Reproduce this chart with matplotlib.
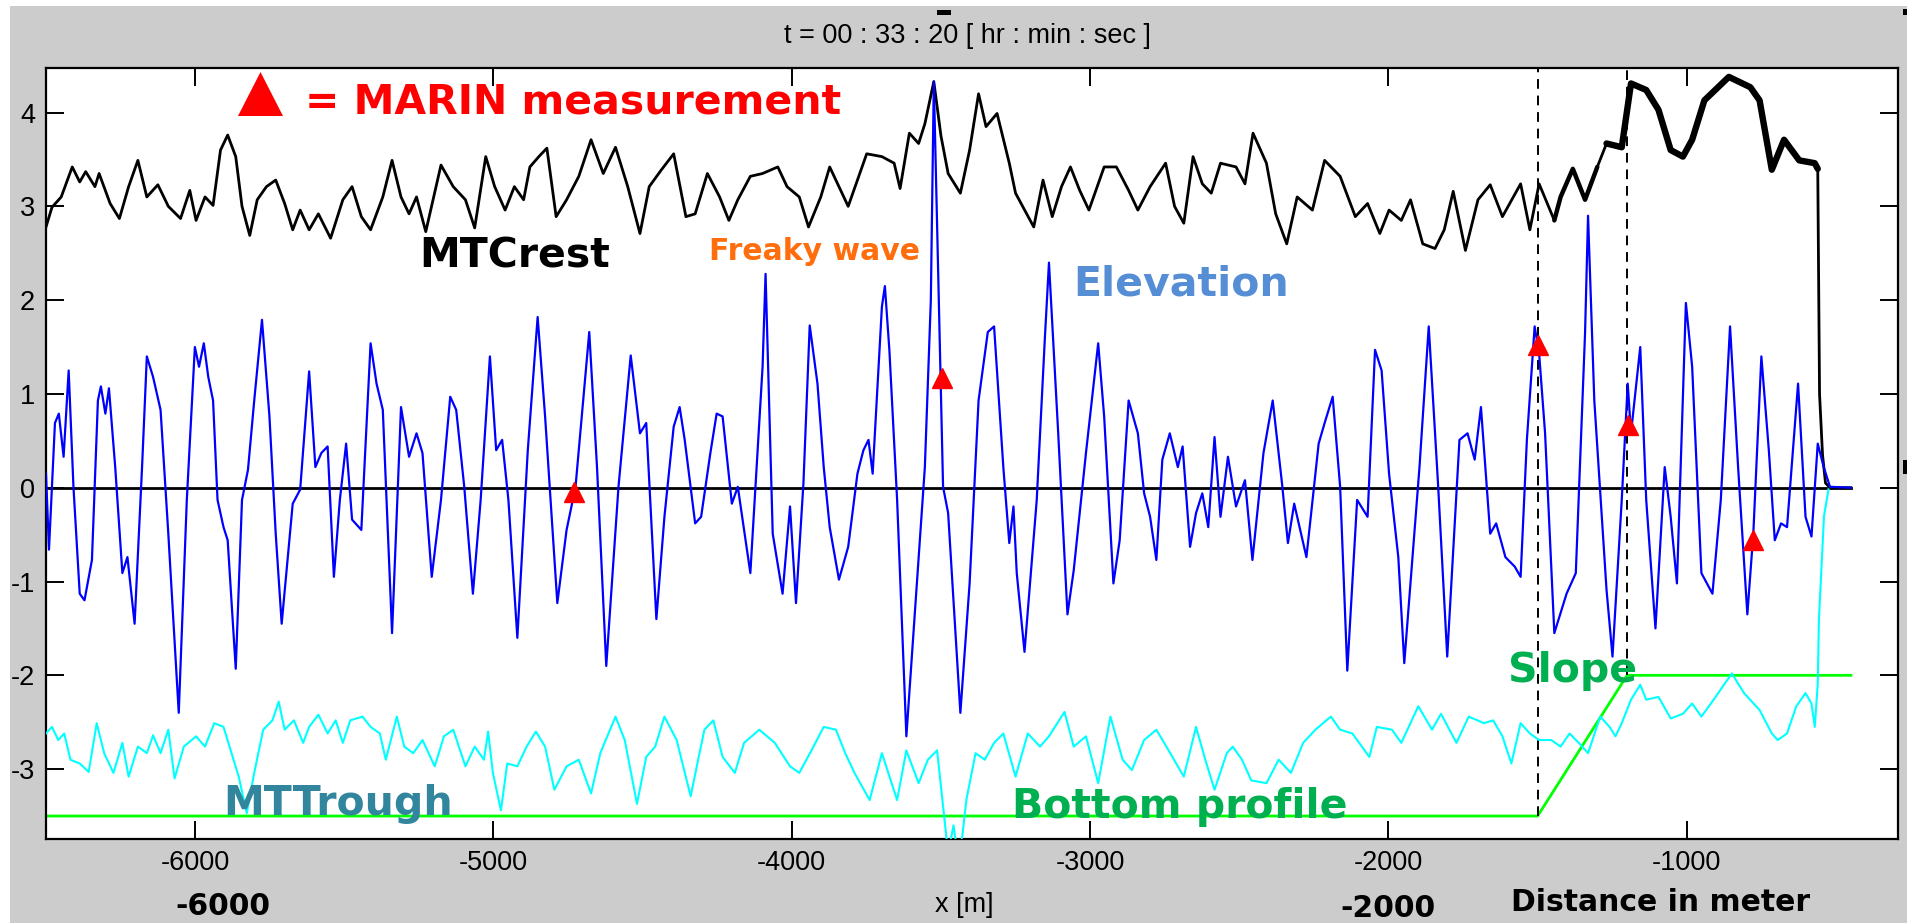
import numpy as np
import matplotlib.pyplot as plt
from matplotlib.patches import Rectangle, Polygon

W, H = 1908, 923

# surface elevation along the tank [m]
elev_x = [-6500, -6490, -6470, -6457, -6441, -6424, -6408, -6387, -6371, -6346,
          -6326, -6316, -6301, -6289, -6268, -6244, -6227, -6203, -6178, -6162,
          -6141, -6116, -6090, -6055, -6028, -6001, -5987, -5971, -5956, -5940,
          -5925, -5905, -5891, -5864, -5843, -5823, -5802, -5776, -5751, -5730,
          -5710, -5673, -5648, -5618, -5597, -5577, -5556, -5535, -5515, -5494,
          -5474, -5443, -5412, -5392, -5371, -5340, -5310, -5283, -5258, -5238,
          -5207, -5176, -5145, -5125, -5098, -5069, -5043, -5012, -4991, -4971,
          -4950, -4920, -4885, -4852, -4827, -4786, -4755, -4725, -4679, -4653,
          -4622, -4581, -4540, -4509, -4488, -4454, -4427, -4396, -4376, -4359,
          -4324, -4304, -4273, -4252, -4232, -4201, -4181, -4139, -4098, -4088,
          -4064, -4031, -4006, -3986, -3961, -3940, -3914, -3893, -3873, -3842,
          -3811, -3780, -3760, -3743, -3729, -3698, -3688, -3673, -3647, -3616,
          -3554, -3534, -3524, -3493, -3476, -3435, -3404, -3374, -3343, -3322,
          -3291, -3271, -3257, -3246, -3220, -3179, -3152, -3138, -3107, -3076,
          -3055, -3014, -2973, -2953, -2922, -2901, -2871, -2840, -2819, -2799,
          -2778, -2758, -2733, -2706, -2690, -2665, -2645, -2624, -2604, -2583,
          -2563, -2538, -2511, -2481, -2456, -2419, -2388, -2357, -2337, -2316,
          -2275, -2234, -2214, -2187, -2162, -2138, -2105, -2070, -2045, -2023,
          -1998, -1967, -1947, -1896, -1865, -1834, -1803, -1762, -1735, -1711,
          -1690, -1659, -1639, -1608, -1577, -1557, -1536, -1510, -1495, -1475,
          -1444, -1403, -1372, -1341, -1331, -1310, -1269, -1249, -1218, -1198,
          -1187, -1156, -1136, -1105, -1074, -1054, -1033, -1003, -982, -951,
          -914, -886, -855, -828, -797, -777, -750, -725, -705, -684,
          -664, -627, -602, -582, -561, -541, -520, -450]
elev_y = [0.15, -0.66, 0.69, 0.79, 0.33, 1.25, 0.01, -1.13, -1.20, -0.77,
          0.93, 1.08, 0.79, 1.06, 0.22, -0.91, -0.74, -1.45, 0.22, 1.40,
          1.18, 0.83, -0.49, -2.40, -0.13, 1.50, 1.29, 1.54, 1.18, 0.93,
          -0.13, -0.42, -0.56, -1.93, -0.13, 0.19, 0.93, 1.79, 0.76, -0.49,
          -1.45, -0.17, -0.02, 1.24, 0.22, 0.37, 0.44, -0.95, -0.13, 0.47,
          -0.34, -0.45, 1.54, 1.11, 0.83, -1.55, 0.86, 0.33, 0.58, 0.37,
          -0.95, -0.13, 0.97, 0.83, 0.01, -1.13, -0.13, 1.40, 0.40, 0.51,
          -0.13, -1.60, 0.40, 1.82, 0.76, -1.23, -0.45, 0.01, 1.66, 0.22,
          -1.90, 0.01, 1.41, 0.58, 0.69, -1.40, -0.31, 0.65, 0.86, 0.51,
          -0.38, -0.31, 0.37, 0.79, 0.76, -0.17, 0.01, -0.91, 1.29, 2.28,
          -0.49, -1.13, -0.20, -1.23, 0.05, 1.73, 1.11, 0.22, -0.42, -0.98,
          -0.63, 0.15, 0.40, 0.51, 0.15, 1.93, 2.15, 1.47, -0.13, -2.65,
          0.22, 2.00, 4.33, 0.01, -0.27, -2.40, -1.02, 0.93, 1.66, 1.72,
          0.22, -0.59, -0.20, -0.91, -1.75, -0.13, 1.58, 2.40, 0.58, -1.35,
          -0.88, 0.37, 1.54, 0.76, -1.02, -0.56, 0.93, 0.58, -0.06, -0.31,
          -0.77, 0.30, 0.58, 0.22, 0.44, -0.63, -0.27, -0.06, -0.42, 0.54,
          -0.31, 0.33, -0.20, 0.08, -0.77, 0.37, 0.93, 0.05, -0.59, -0.17,
          -0.74, 0.47, 0.69, 0.97, 0.01, -1.95, -0.13, -0.31, 1.47, 1.25,
          0.15, -0.74, -1.87, 0.22, 1.72, 0.05, -1.80, 0.51, 0.58, 0.30,
          0.86, -0.49, -0.38, -0.74, -0.84, -0.95, 0.51, 1.72, 1.43, 0.58,
          -1.55, -1.13, -0.91, 1.65, 2.90, 0.93, -1.09, -1.80, -0.13, 1.11,
          0.58, 1.50, -0.13, -1.50, 0.22, -0.31, -1.02, 1.97, 1.29, -0.91,
          -1.13, -0.13, 1.72, 0.22, -1.35, -0.49, 1.40, 0.40, -0.56, -0.38,
          -0.42, 1.11, -0.31, -0.52, 0.47, 0.22, 0.01, 0.00]

# maximum crest height
crest_x = [-6500, -6480, -6449, -6412, -6387, -6367, -6336, -6322, -6285, -6254,
           -6223, -6192, -6162, -6125, -6090, -6049, -6018, -5997, -5967, -5940,
           -5915, -5891, -5864, -5843, -5817, -5792, -5761, -5730, -5700, -5673,
           -5648, -5618, -5587, -5546, -5505, -5474, -5443, -5412, -5371, -5340,
           -5310, -5283, -5258, -5227, -5176, -5135, -5094, -5063, -5026, -4996,
           -4961, -4930, -4899, -4878, -4848, -4821, -4790, -4755, -4714, -4673,
           -4632, -4591, -4550, -4509, -4478, -4437, -4396, -4355, -4324, -4283,
           -4242, -4211, -4181, -4139, -4098, -4047, -4016, -3975, -3944, -3903,
           -3873, -3842, -3811, -3780, -3749, -3698, -3657, -3637, -3606, -3575,
           -3554, -3524, -3500, -3476, -3435, -3404, -3374, -3349, -3312, -3271,
           -3250, -3189, -3158, -3127, -3096, -3066, -3035, -3004, -2953, -2912,
           -2871, -2840, -2799, -2747, -2717, -2686, -2655, -2624, -2594, -2563,
           -2511, -2481, -2454, -2409, -2378, -2341, -2306, -2255, -2214, -2162,
           -2111, -2070, -2029, -1998, -1957, -1926, -1885, -1844, -1813, -1783,
           -1742, -1700, -1659, -1618, -1557, -1526, -1495, -1444, -1423, -1382,
           -1341, -1300, -1269, -1218, -1187, -1136, -1095, -1054, -1013, -982,
           -941, -859, -787, -756, -715, -674, -623, -571, -561, -555,
           -545, -535, -520, -450]
crest_y = [2.78, 2.99, 3.10, 3.42, 3.26, 3.37, 3.21, 3.35, 3.03, 2.87,
           3.21, 3.49, 3.10, 3.23, 3.00, 2.87, 3.17, 2.85, 3.10, 3.01,
           3.60, 3.76, 3.53, 3.00, 2.69, 3.07, 3.21, 3.28, 3.03, 2.75,
           2.96, 2.75, 2.92, 2.66, 3.07, 3.21, 2.89, 2.75, 3.10, 3.49,
           3.10, 2.92, 3.10, 2.73, 3.44, 3.21, 3.07, 2.77, 3.53, 3.21,
           2.96, 3.21, 3.07, 3.42, 3.53, 3.62, 2.89, 3.07, 3.32, 3.71,
           3.35, 3.63, 3.21, 2.71, 3.21, 3.39, 3.56, 2.89, 2.92, 3.35,
           3.10, 2.85, 3.07, 3.32, 3.35, 3.42, 3.21, 3.10, 2.78, 3.10,
           3.42, 3.21, 3.00, 3.28, 3.56, 3.53, 3.46, 3.19, 3.78, 3.67,
           3.88, 4.33, 3.75, 3.35, 3.14, 3.60, 4.20, 3.85, 3.99, 3.46,
           3.14, 2.78, 3.28, 2.89, 3.21, 3.42, 3.17, 2.96, 3.42, 3.42,
           3.17, 2.96, 3.21, 3.46, 3.00, 2.82, 3.53, 3.24, 3.14, 3.46,
           3.42, 3.24, 3.78, 3.46, 2.92, 2.60, 3.10, 2.96, 3.49, 3.32,
           2.89, 3.03, 2.71, 2.96, 2.85, 3.07, 2.60, 2.55, 2.75, 3.16,
           2.53, 3.07, 3.23, 2.89, 3.24, 2.75, 3.24, 2.85, 3.10, 3.40,
           3.07, 3.42, 3.67, 3.63, 4.31, 4.24, 4.03, 3.60, 3.53, 3.71,
           4.13, 4.38, 4.27, 4.13, 3.39, 3.71, 3.49, 3.46, 3.40, 1.00,
           0.35, 0.05, 0.00, 0.00]

# maximum trough depth
trough_x = [-6500, -6480, -6459, -6439, -6418, -6387, -6357, -6330, -6305, -6274,
            -6244, -6223, -6192, -6162, -6141, -6116, -6090, -6069, -6038, -5997,
            -5967, -5936, -5905, -5878, -5854, -5827, -5802, -5772, -5741, -5720,
            -5700, -5669, -5638, -5618, -5587, -5556, -5529, -5505, -5480, -5439,
            -5412, -5381, -5361, -5324, -5299, -5269, -5238, -5197, -5166, -5135,
            -5094, -5063, -5032, -5018, -5002, -4975, -4954, -4920, -4889, -4858,
            -4827, -4796, -4755, -4714, -4673, -4642, -4591, -4560, -4519, -4488,
            -4458, -4427, -4386, -4339, -4314, -4293, -4263, -4232, -4191, -4160,
            -4109, -4057, -4006, -3975, -3934, -3893, -3852, -3821, -3790, -3739,
            -3698, -3647, -3616, -3575, -3544, -3513, -3493, -3476, -3458, -3442,
            -3428, -3415, -3384, -3353, -3322, -3291, -3250, -3209, -3168, -3138,
            -3086, -3055, -3014, -2973, -2932, -2891, -2860, -2819, -2778, -2737,
            -2686, -2645, -2614, -2583, -2542, -2522, -2491, -2460, -2409, -2368,
            -2327, -2286, -2245, -2193, -2162, -2121, -2064, -2039, -1988, -1957,
            -1900, -1854, -1824, -1772, -1731, -1680, -1649, -1618, -1588, -1557,
            -1526, -1495, -1454, -1423, -1393, -1362, -1331, -1290, -1259, -1239,
            -1218, -1187, -1156, -1136, -1095, -1054, -1013, -982, -951, -910,
            -849, -808, -756, -715, -695, -664, -633, -602, -582, -571,
            -561, -557, -540, -524, -450]
trough_y = [-2.62, -2.55, -2.69, -2.62, -2.90, -2.94, -3.03, -2.51, -2.83, -3.04,
            -2.72, -3.08, -2.76, -2.83, -2.64, -2.83, -2.58, -3.10, -2.76, -2.65,
            -2.76, -2.51, -2.55, -2.83, -3.08, -3.47, -3.04, -2.58, -2.48, -2.28,
            -2.58, -2.48, -2.72, -2.55, -2.42, -2.62, -2.48, -2.72, -2.48, -2.44,
            -2.55, -2.62, -2.90, -2.44, -2.76, -2.83, -2.69, -2.97, -2.65, -2.58,
            -2.97, -2.76, -2.90, -2.60, -3.04, -3.44, -2.94, -2.97, -2.76, -2.60,
            -2.76, -3.22, -2.97, -2.90, -3.26, -2.83, -2.44, -2.69, -3.37, -2.87,
            -2.76, -2.44, -2.69, -3.29, -2.90, -2.58, -2.48, -2.87, -3.04, -2.72,
            -2.58, -2.72, -2.97, -3.04, -2.80, -2.55, -2.58, -2.83, -3.04, -3.33,
            -2.83, -3.33, -2.80, -3.15, -2.90, -2.80, -3.40, -3.90, -3.60, -3.95,
            -3.70, -3.33, -2.83, -2.90, -2.72, -2.62, -3.08, -2.62, -2.76, -2.65,
            -2.39, -2.76, -2.65, -3.15, -2.44, -2.90, -3.01, -2.69, -2.58, -2.80,
            -3.08, -2.55, -2.90, -3.22, -2.83, -2.76, -2.90, -3.12, -3.15, -2.90,
            -3.04, -2.72, -2.58, -2.44, -2.58, -2.62, -2.87, -2.55, -2.58, -2.72,
            -2.33, -2.58, -2.41, -2.72, -2.44, -2.51, -2.48, -2.65, -2.94, -2.51,
            -2.62, -2.69, -2.69, -2.76, -2.62, -2.72, -2.83, -2.44, -2.55, -2.65,
            -2.51, -2.26, -2.10, -2.26, -2.23, -2.46, -2.41, -2.30, -2.44, -2.26,
            -1.98, -2.19, -2.37, -2.62, -2.69, -2.62, -2.33, -2.19, -2.30, -2.55,
            -2.09, -1.40, -0.30, 0.00, 0.00]

# bottom profile: flat floor, slope, shallow shelf
bottom_x = [-6500, -1500, -1200, -450]
bottom_y = [-3.5, -3.5, -2.0, -2.0]

# MARIN wave probe readings
marin_x = [-4729, -3497, -1499, -1197, -777]
marin_y = [-0.05, 1.17, 1.52, 0.67, -0.56]

zero_x = [-6500, -450]
probe_lines = [-1500, -1200]

xlim = (-6500, -292)
ylim = (-3.745, 4.478)
xticks = [-6000, -5000, -4000, -3000, -2000, -1000]
yticks = [-3, -2, -1, 0, 1, 2, 3, 4]


def px(x, y):
    # pixel position (from top-left) -> figure fraction
    return x / W, 1 - y / H


plt.rcParams['font.family'] = ['Liberation Sans', 'DejaVu Sans']
plt.rcParams['axes.unicode_minus'] = False

fig = plt.figure(figsize=(W / 100, H / 100), dpi=100)
fig.patch.set_facecolor('white')
fig.add_artist(Rectangle(px(10, H), 1, 1 - 6 / H, transform=fig.transFigure,
                         facecolor='#cccccc', edgecolor='none', zorder=-10))

x0, y0 = px(46, 839)
x1, y1 = px(1898, 67.7)
ax = fig.add_axes([x0, y0, x1 - x0, y1 - y0])
ax.set_facecolor('white')

ax.plot(zero_x, [0, 0], color='black', lw=2.0, zorder=2)
ax.plot(bottom_x, bottom_y, color='#00ff00', lw=2.0, zorder=2)
for xv in probe_lines:
    base = np.interp(xv, bottom_x, bottom_y)
    ax.axvline(xv, ymin=(base - ylim[0]) / (ylim[1] - ylim[0]), ymax=1,
               color='black', lw=1.4, ls=(0, (5, 3.5)), zorder=2)

ax.plot(trough_x, trough_y, color='#00ffff', lw=1.5, zorder=3)
crest_x_arr = np.array(crest_x)
crest_y_arr = np.array(crest_y)
ax.plot(crest_x_arr, crest_y_arr, color='black', lw=2.0, zorder=3)
# the crest record gets very noisy over the slope -> draw it as a wider band
for lo, hi, w in [(-1445, -1270, 3.2), (-1270, -561, 4.6)]:
    seg = (crest_x_arr >= lo) & (crest_x_arr <= hi)
    ax.plot(crest_x_arr[seg], crest_y_arr[seg], color='black', lw=w,
            solid_joinstyle='round', solid_capstyle='round', zorder=3)
ax.plot(elev_x, elev_y, color='#0000ff', lw=1.6, zorder=4)
ax.plot(marin_x, marin_y, '^', color='red', mec='red', ms=15, zorder=5)

ax.set_xlim(*xlim)
ax.set_ylim(*ylim)
ax.set_xticks(xticks)
ax.set_yticks(yticks)
ax.tick_params(direction='in', length=13, width=1.4, top=True, right=True,
               labelsize=19.5, pad=8)
for sp in ax.spines.values():
    sp.set_linewidth(1.6)

ax.set_xlabel('x [m]', fontsize=19.5)
ax.xaxis.label.set_va('baseline')
ax.xaxis.set_label_coords((964 - 46) / (1898 - 46), (839 - 912) / (839 - 67.7))

fig.text(*px(967, 43), 't = 00 : 33 : 20 [ hr : min : sec ]', ha='center',
         va='baseline', fontsize=19.5)

# annotations
bold = dict(family='DejaVu Sans', weight='bold', va='baseline', ha='left')
fig.add_artist(Polygon([px(238, 116), px(283, 116), px(260.5, 72)], closed=True,
                       transform=fig.transFigure, facecolor='red', edgecolor='none'))
fig.text(*px(305, 113), '= MARIN measurement', color='red', fontsize=29.5, **bold)
fig.text(*px(419, 268), 'MTCrest', color='black', fontsize=29.5, **bold)
fig.text(*px(709, 260), 'Freaky wave', color='#ff6d0c', fontsize=21.5, **bold)
fig.text(*px(1073, 295), 'Elevation', color='#558ed5', fontsize=29.5, **bold)
fig.text(*px(223, 815), 'MTTrough', color='#31859c', fontsize=29.5, **bold)
fig.text(*px(1012, 818), 'Bottom profile', color='#00b050', fontsize=29.5, **bold)
fig.text(*px(1508, 682), 'Slope', color='#00b050', fontsize=29.5, **bold)
fig.text(*px(175, 915), '-6000', color='black', fontsize=21.5, **bold)
fig.text(*px(1340, 917), '-2000', color='black', fontsize=21.5, **bold)
fig.text(*px(1511, 911), 'Distance in meter', color='black', fontsize=21.5, **bold)

# small window handles
for (hx, hy, hw, hh) in [(937, 10, 14, 5), (1903, 9, 5, 6), (1903, 460, 5, 14)]:
    fig.add_artist(Rectangle(px(hx, hy + hh), hw / W, hh / H,
                             transform=fig.transFigure, facecolor='black',
                             edgecolor='none'))

fig.savefig('out.png', dpi=100)
